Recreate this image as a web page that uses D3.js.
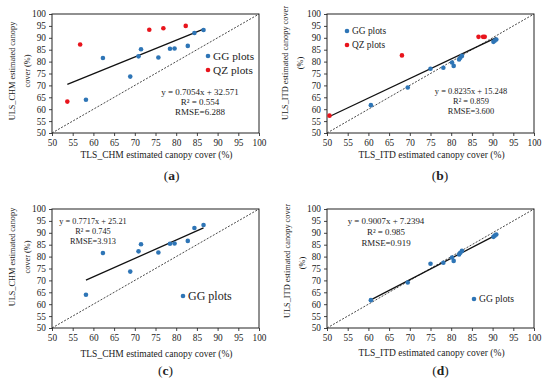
<!DOCTYPE html>
<html><head><meta charset="utf-8">
<script src="https://cdn.jsdelivr.net/npm/d3@7"></script>
<style>
body{margin:0;background:#fff;}
text{font-family:"Liberation Serif","Times New Roman",serif;fill:#222;}
</style></head>
<body>
<svg id="c" width="550" height="390"></svg>
<script>
// ---- data ----
const axisTicks = [50,55,60,65,70,75,80,85,90,95,100];

// CHM-based (panels a, c)
const chmGG_x = [58.2,62.3,68.9,70.9,71.5,75.7,78.5,79.6,82.8,84.4,86.6];
const chmGG_y = [64.0,81.5,73.7,82.2,85.2,81.7,85.4,85.5,86.6,92.0,93.3];
const chmQZ_x = [53.7,56.8,73.5,76.9,82.3];
const chmQZ_y = [63.2,87.2,93.4,94.0,95.0];

// ITD-based (panels b, d)
const itdGG_x = [60.6,69.5,75.0,78.1,80.2,80.6,81.9,82.2,82.6,90.2,90.5,90.9];
const itdGG_y = [61.7,69.1,77.0,77.4,79.6,78.2,80.9,81.6,82.4,88.3,88.8,89.3];
const itdQZ_x = [50.6,68.1,86.6,87.7,88.1];
const itdQZ_y = [57.3,82.6,90.4,90.4,90.4];

const panelLabels = ["a","b","c","d"];
const equations = [
  ["y = 0.7054x + 32.571","R\u00b2 = 0.554","RMSE=6.288"],
  ["y = 0.8235x + 15.248","R\u00b2 = 0.859","RMSE=3.600"],
  ["y = 0.7717x + 25.21","R\u00b2 = 0.745","RMSE=3.913"],
  ["y = 0.9007x + 7.2394","R\u00b2 = 0.985","RMSE=0.919"]
];
const slopes = [0.7054,0.8235,0.7717,0.9007];
const intercepts = [32.571,15.248,25.21,7.2394];
const xTitles = ["TLS_CHM estimated canopy cover (%)","TLS_ITD estimated canopy cover (%)","TLS_CHM estimated canopy cover (%)","TLS_ITD estimated canopy cover (%)"];
const yTitles = [["ULS_CHM estimated canopy","cover (%)"],["ULS_ITD estimated canopy cover","(%)"],["ULS_CHM estimated canopy","cover (%)"],["ULS_ITD estimated canopy cover","(%)"]];
const legendNames = ["GG plots","QZ plots"];

const BLUE = "#2e75b6", RED = "#e8141c";

const svg = d3.select("#c");

const panels = [
  {ox:0, oy:0, gx:chmGG_x, gy:chmGG_y, qx:chmQZ_x, qy:chmQZ_y,
   eq:{x:200,y:[95,105,115],fs:9}, leg:{x:208,y:[56,70],fs:11.3},
   yt:{x:[11.7,26.7],cy:[71,71]}, xtY:158, lab:{x:171.5,y:180}},
  {ox:275, oy:0, gx:itdGG_x, gy:itdGG_y, qx:itdQZ_x, qy:itdQZ_y,
   eq:{x:471,y:[93.7,103.7,114],fs:8.4}, leg:{x:347,y:[31,45],fs:9.4},
   yt:{x:[285,300],cy:[63,63]}, xtY:158, lab:{x:440,y:180}},
  {ox:0, oy:195, gx:chmGG_x, gy:chmGG_y, qx:null, qy:null,
   eq:{x:93,y:[224,234,244],fs:8.3}, leg:{x:183,y:[296],fs:12},
   yt:{x:[12,27],cy:[257,257]}, xtY:357, lab:{x:165.5,y:375}},
  {ox:275, oy:195, gx:itdGG_x, gy:itdGG_y, qx:null, qy:null,
   eq:{x:386,y:[224,234.7,245.7],fs:8.9}, leg:{x:474,y:[299],fs:9.6},
   yt:{x:[287,302],cy:[261,263]}, xtY:356, lab:{x:440.5,y:375}}
];

panels.forEach((p,i)=>{
  const left = p.ox+52, right = p.ox+259, top = p.oy+14, bottom = p.oy+133;
  const x = d3.scaleLinear().domain([50,100]).range([left,right]);
  const y = d3.scaleLinear().domain([50,100]).range([bottom,top]);
  const g = svg.append("g");

  // axes
  const xa = g.append("g").attr("transform",`translate(0,${bottom})`)
    .call(d3.axisBottom(x).tickValues(axisTicks).tickSize(3).tickFormat(d3.format("d")));
  const ya = g.append("g").attr("transform",`translate(${left},0)`)
    .call(d3.axisLeft(y).tickValues(axisTicks).tickSize(3).tickFormat(d3.format("d")));
  [xa,ya].forEach(a=>{
    a.select(".domain").remove();
    a.selectAll("line").attr("stroke","#444");
    a.selectAll("text").style("font-family","Liberation Serif").style("font-size","9.3px").attr("fill","#333");
  });

  // frame
  g.append("rect").attr("x",left).attr("y",top).attr("width",right-left).attr("height",bottom-top)
    .attr("fill","none").attr("stroke","#222").attr("stroke-width",1);

  // 1:1 line
  g.append("line").attr("x1",x(50)).attr("y1",y(50)).attr("x2",x(100)).attr("y2",y(100))
    .attr("stroke","#333").attr("stroke-width",0.9).attr("stroke-dasharray","2,1.5");

  // regression line
  const allX = p.qx ? p.gx.concat(p.qx) : p.gx;
  const [mn,mx] = d3.extent(allX);
  g.append("line").attr("x1",x(mn)).attr("y1",y(slopes[i]*mn+intercepts[i]))
    .attr("x2",x(mx)).attr("y2",y(slopes[i]*mx+intercepts[i]))
    .attr("stroke","#111").attr("stroke-width",1.3);

  // points
  g.selectAll(".gg").data(p.gx).enter().append("circle")
    .attr("cx",d=>x(d)).attr("cy",(d,j)=>y(p.gy[j])).attr("r",2.3).attr("fill",BLUE);
  if(p.qx){
    g.selectAll(".qz").data(p.qx).enter().append("circle")
      .attr("cx",d=>x(d)).attr("cy",(d,j)=>y(p.qy[j])).attr("r",2.3).attr("fill",RED);
  }

  // legend
  p.leg.y.forEach((ly,k)=>{
    g.append("circle").attr("cx",p.leg.x).attr("cy",ly).attr("r",2.3).attr("fill",k===0?BLUE:RED);
    g.append("text").attr("x",p.leg.x+5).attr("y",ly+p.leg.fs*0.33)
      .style("font-size",p.leg.fs+"px").text(legendNames[k]);
  });

  // equation
  equations[i].forEach((t,k)=>{
    g.append("text").attr("x",p.eq.x).attr("y",p.eq.y[k]).attr("text-anchor","middle")
      .style("font-size",p.eq.fs+"px").text(t);
  });

  // axis titles
  g.append("text").attr("x",(left+right)/2+1).attr("y",p.xtY).attr("text-anchor","middle")
    .style("font-size","9.5px").text(xTitles[i]);
  [0,1].forEach(k=>{
    g.append("text").attr("transform",`translate(${p.yt.x[k]+2.8},${p.yt.cy[k]}) rotate(-90)`)
      .attr("text-anchor","middle").style("font-size","8.3px").text(yTitles[i][k]);
  });

  // panel label
  const lab = g.append("text").attr("x",p.lab.x).attr("y",p.lab.y).attr("text-anchor","middle")
    .style("font-size","13.5px");
  lab.append("tspan").text("(");
  lab.append("tspan").style("font-weight","bold").text(panelLabels[i]);
  lab.append("tspan").text(")");
});
</script>
</body></html>
